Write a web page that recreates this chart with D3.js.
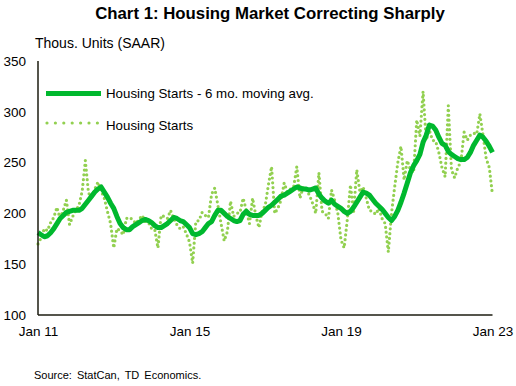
<!DOCTYPE html>
<html>
<head>
<script src="https://d3js.org/d3.v7.min.js"></script>
<style>
  body { margin: 0; background: #fff; }
  text { font-family: "Liberation Sans", Arial, sans-serif; }
</style>
</head>
<body>
<svg id="chart" width="516" height="386"></svg>
<script>
// monthly, Jan 2011 .. Jan 2023 (thousands of units, SAAR)
var startsRaw = [
  170, 176, 185, 183, 191, 196, 206, 195, 203, 213, 189, 197,   // 2011
  203, 208, 222, 252, 220, 216, 224, 231, 222, 215, 202, 190,   // 2012
  166, 185, 183, 179, 195, 196, 194, 190, 194, 198, 192, 191,   // 2013
  185, 184, 166, 198, 197, 195, 203, 195, 189, 185, 187, 180,   // 2014
  172, 151, 192, 193, 201, 198, 196, 219, 225, 208, 190, 173,   // 2015
  182, 212, 197, 200, 201, 215, 203, 190, 215, 198, 186, 202,   // 2016
  208, 228, 246, 200, 205, 213, 230, 221, 224, 226, 246, 215,   // 2017
  226, 223, 218, 210, 200, 240, 202, 200, 195, 223, 213, 200,   // 2018
  174, 166, 194, 228, 202, 243, 221, 226, 215, 203, 202, 199,   // 2019
  205, 195, 190, 162, 200, 226, 250, 266, 233, 252, 243, 240,   // 2020
  292, 276, 320, 272, 282, 272, 271, 260, 245, 236, 306, 243,   // 2021
  235, 245, 251, 280, 272, 277, 279, 278, 298, 277, 254, 245,   // 2022
  218                                                            // Jan 2023
];
var startsAvg = [
  181, 179, 177, 178, 181, 185, 190, 195, 198, 201, 202, 203,
  203, 203, 205, 209, 213, 217, 221, 224, 226, 221, 216, 210,
  205, 197, 190, 186, 184, 184, 187, 189, 191, 193, 194, 193,
  191, 188, 186, 186, 188, 190, 193, 196, 195, 193, 192, 189,
  186, 180, 179, 180, 182, 186, 190, 192, 198, 203, 203, 200,
  197, 195, 193, 192, 193, 199, 202, 199, 198, 198, 198, 200,
  203, 206, 208, 211, 214, 217, 218, 220, 222, 224, 226, 225,
  224, 224, 223, 224, 225, 219, 215, 212, 210, 213, 209, 207,
  205, 202, 200, 202, 206, 211, 216, 221, 220, 218, 214, 210,
  207, 204, 200, 196, 193, 197, 203, 211, 220, 230, 240, 247,
  252, 258, 270, 277, 287, 286, 282, 275, 269, 267, 261, 258,
  256, 254, 253, 253, 255, 260, 267, 272, 277, 275, 271, 266,
  260
];
var yTicks = [100, 150, 200, 250, 300, 350];
var xTickLabels = ["Jan 11", "Jan 15", "Jan 19", "Jan 23"];
var xTickMonths = [0, 48, 96, 144];

var svg = d3.select("#chart");
var pLeft = 38, pRight = 492.5, pTop = 61, pBottom = 315;

var x = d3.scaleLinear().domain([0, 144]).range([pLeft, pRight]);
var y = d3.scaleLinear().domain([100, 350]).range([pBottom, pTop]);

svg.append("text")
  .attr("x", 270).attr("y", 19)
  .attr("text-anchor", "middle")
  .style("font-size", "16.8px").style("font-weight", "bold")
  .text("Chart 1: Housing Market Correcting Sharply");

svg.append("text")
  .attr("x", 35).attr("y", 48)
  .style("font-size", "14px")
  .text("Thous. Units (SAAR)");

// y axis labels
var yAxis = d3.axisLeft(y).tickValues(yTicks).tickSize(0).tickPadding(12);
var gy = svg.append("g").attr("transform", "translate(" + pLeft + ",0)").call(yAxis);
gy.select(".domain").remove();
gy.selectAll("text").style("font-size", "13.5px").style("font-family", "Liberation Sans, Arial").attr("fill", "#000");

// x axis labels
var xAxis = d3.axisBottom(x).tickValues(xTickMonths)
  .tickFormat(function (d, i) { return xTickLabels[i]; })
  .tickSize(0).tickPadding(11);
var gx = svg.append("g").attr("transform", "translate(0," + pBottom + ")").call(xAxis);
gx.select(".domain").remove();
gx.selectAll("text").style("font-size", "13.5px").style("font-family", "Liberation Sans, Arial").attr("fill", "#000");

// lines
var lineGen = d3.line()
  .x(function (d, i) { return x(i); })
  .y(function (d) { return y(d); });

svg.append("path")
  .datum(startsRaw)
  .attr("d", lineGen)
  .attr("fill", "none")
  .attr("stroke", "#92d050")
  .attr("stroke-width", 3.2)
  .attr("stroke-linecap", "round")
  .attr("stroke-dasharray", "0 4.8");

svg.append("path")
  .datum(startsAvg)
  .attr("d", lineGen)
  .attr("fill", "none")
  .attr("stroke", "#00b82e")
  .attr("stroke-width", 5)
  .attr("stroke-linejoin", "round");

// axis lines
svg.append("line")
  .attr("x1", pLeft).attr("x2", pLeft).attr("y1", pTop).attr("y2", pBottom)
  .attr("stroke", "#1c1c10").attr("stroke-width", 1.5);
svg.append("line")
  .attr("x1", pLeft).attr("x2", pRight).attr("y1", pBottom).attr("y2", pBottom)
  .attr("stroke", "#1c1c10").attr("stroke-width", 1.5);

// legend
var legend = svg.append("g");
legend.append("line")
  .attr("x1", 46).attr("x2", 101).attr("y1", 93.5).attr("y2", 93.5)
  .attr("stroke", "#00b82e").attr("stroke-width", 5);
legend.append("text")
  .attr("x", 106).attr("y", 98)
  .style("font-size", "13.3px")
  .text("Housing Starts - 6 mo. moving avg.");
legend.append("line")
  .attr("x1", 47).attr("x2", 100).attr("y1", 123).attr("y2", 123)
  .attr("stroke", "#92d050").attr("stroke-width", 3.2)
  .attr("stroke-linecap", "round").attr("stroke-dasharray", "0 8.4");
legend.append("text")
  .attr("x", 106).attr("y", 130)
  .style("font-size", "13.3px")
  .text("Housing Starts");

svg.append("text")
  .attr("x", 34).attr("y", 379)
  .style("font-size", "11px")
  .style("word-spacing", "2px")
  .text("Source: StatCan, TD Economics.");
</script>
</body>
</html>
